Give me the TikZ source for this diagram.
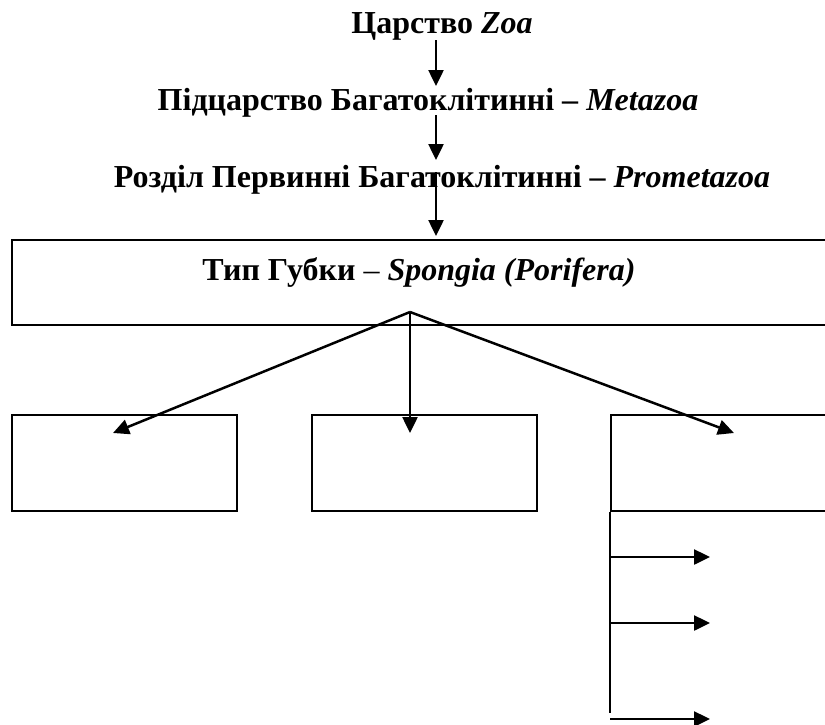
\documentclass[tikz,border=0pt]{standalone}
\usepackage{fontspec}
\setmainfont{Liberation Serif}
\usetikzlibrary{arrows.meta}
\begin{document}
\begin{tikzpicture}[x=1pt,y=-1pt,
  title/.style={font=\bfseries\fontsize{32}{36}\selectfont, inner sep=0pt, anchor=base},
  box/.style={draw, line width=2pt, inner sep=0pt, anchor=north west},
  arr/.style={line width=2.5pt, -{Triangle[length=16pt,width=15pt]}}]
\clip (0,0) rectangle (825,724);
\fill[white] (0,0) rectangle (825,724);
% titles
\node[title] (zoa) at (442,33) {Царство \textit{Zoa}};
\node[title] (meta) at (428,110) {Підцарство Багатоклітинні – \textit{Metazoa}};
\node[title] (proto) at (442,187) {Розділ Первинні Багатоклітинні – \textit{Prometazoa}};
% boxes
\node[box, minimum width=840pt, minimum height=85pt] (typebox) at (11,239) {};
\node[title] (typetext) at (419,280) {Тип Губки {\mdseries –} \textit{Spongia (Porifera)}};
\node[box, minimum width=225pt, minimum height=96pt] (b1) at (11,414) {};
\node[box, minimum width=225pt, minimum height=96pt] (b2) at (311,414) {};
\node[box, minimum width=300pt, minimum height=96pt] (b3) at (610,414) {};
% vertical chain
\coordinate (a1s) at (436,40);  \coordinate (a1e) at (436,86);
\coordinate (a2s) at (436,115); \coordinate (a2e) at (436,160);
\coordinate (a3s) at (436,172); \coordinate (a3e) at (436,236);
\draw[arr] (a1s) -- (a1e);
\draw[arr] (a2s) -- (a2e);
\draw[arr] (a3s) -- (a3e);
% fan
\coordinate (apex) at (410,312);
\coordinate (t1) at (113,433);
\coordinate (t2) at (410,433);
\coordinate (t3) at (734,433);
\draw[arr] (apex) -- (t1);
\draw[arr] (apex) -- (t2);
\draw[arr] (apex) -- (t3);
% right branch
\coordinate (vend) at (610,713);
\draw[line width=2.5pt] (b3.south west) -- (vend);
\coordinate (h1s) at (610,557); \coordinate (h1e) at (710,557);
\coordinate (h2s) at (610,623); \coordinate (h2e) at (710,623);
\coordinate (h3s) at (610,719); \coordinate (h3e) at (710,719);
\draw[arr] (h1s) -- (h1e);
\draw[arr] (h2s) -- (h2e);
\draw[arr] (h3s) -- (h3e);
\end{tikzpicture}
\end{document}
